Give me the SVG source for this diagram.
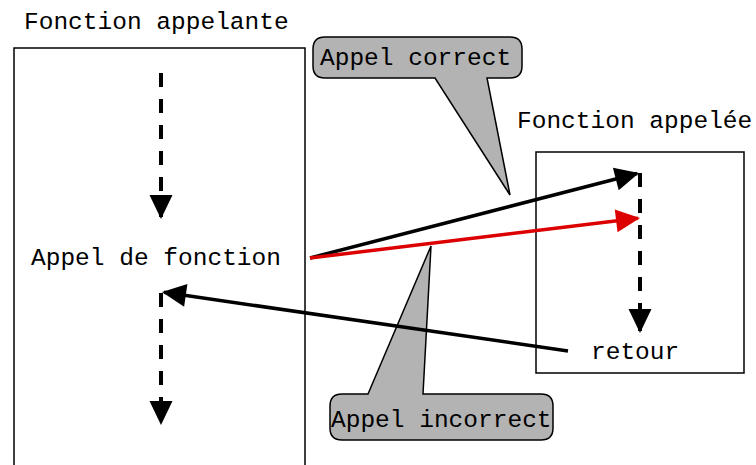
<svg xmlns="http://www.w3.org/2000/svg" width="756" height="465" viewBox="0 0 756 465">
<style>
text{font-family:"Liberation Mono","Courier New",monospace;font-size:24.5px;fill:#000}
.box{fill:#fff;stroke:#000;stroke-width:1.5}
.callout{fill:#b3b3b3;stroke:#000;stroke-width:1.5;stroke-linejoin:miter}
.arr{fill:none;stroke:#000;stroke-width:3.5;marker-end:url(#ah)}
.red{stroke:#dd0000;marker-end:url(#ahr)}
.dash{stroke-dasharray:14 12;stroke-width:4}
</style>
<defs>
<marker id="ah" markerUnits="userSpaceOnUse" markerWidth="26" markerHeight="26" refX="22" refY="11.5" orient="auto" overflow="visible">
<path d="M0,0 L24,11.5 L0,23 Z" fill="#000"/>
</marker>
<marker id="ahr" markerUnits="userSpaceOnUse" markerWidth="26" markerHeight="26" refX="22" refY="11.5" orient="auto" overflow="visible">
<path d="M0,0 L24,11.5 L0,23 Z" fill="#dd0000"/>
</marker>
</defs>
<rect width="756" height="465" fill="#fff"/>
<g id="appelante">
<text x="24" y="29">Fonction appelante</text>
<path class="box" d="M14,470 V48 H305 V470"/>
<text x="31" y="265">Appel de fonction</text>
</g>
<g id="appelee">
<text x="517" y="128">Fonction appelée</text>
<rect class="box" x="536" y="152" width="208" height="221"/>
<text x="591" y="359">retour</text>
</g>
<g id="callout-correct">
<path class="callout" d="M325,37 H510 Q522,37 522,49 V66 Q522,78 510,78 H487 L510,195 L435,78 H325 Q313,78 313,66 V49 Q313,37 325,37 Z"/>
<text x="320" y="65">Appel correct</text>
</g>
<g id="callout-incorrect">
<path class="callout" d="M342,394 H368 L431,246 L423,394 H541 Q553,394 553,406 V428 Q553,440 541,440 H342 Q330,440 330,428 V406 Q330,394 342,394 Z"/>
<text x="331" y="427">Appel incorrect</text>
</g>
<g id="connectors">
<line class="arr dash" x1="161" y1="73" x2="161" y2="217"/>
<line class="arr dash" x1="161" y1="293" x2="161" y2="423"/>
<line class="arr dash" x1="640" y1="173" x2="640" y2="331"/>
<line class="arr" x1="310" y1="258" x2="637.1" y2="173.5"/>
<line class="arr red" x1="310" y1="258" x2="638" y2="218.2"/>
<line class="arr" x1="568" y1="351" x2="164" y2="292.3"/>
</g>
</svg>
